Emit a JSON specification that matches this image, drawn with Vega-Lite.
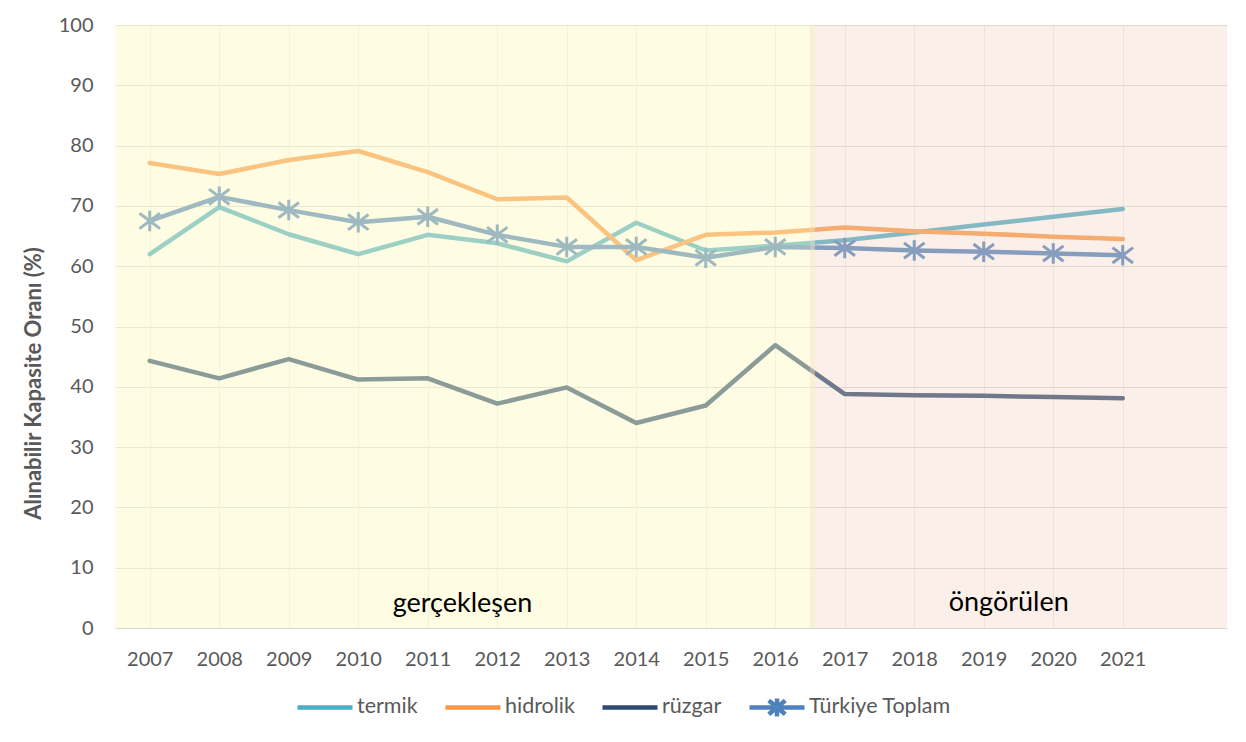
{
  "$schema": "https://vega.github.io/schema/vega-lite/v6.json",
  "width": 1112,
  "height": 603,
  "autosize": {"type": "none"},
  "padding": {"left": 115, "top": 25, "right": 19, "bottom": 114},
  "background": "white",
  "config": {
    "view": {"stroke": null},
    "font": "Lato",
    "axis": {"labelColor": "#595959", "labelFont": "Lato", "labelFontSize": 20, "domain": false, "ticks": false, "titleColor": "#595959"},
    "legend": {"labelColor": "#595959", "labelFontSize": 21.5, "labelFont": "Lato"}
  },
  "datasets": {
    "series": [
      {"year": 2007, "series": "termik", "value": 62.0},
      {"year": 2008, "series": "termik", "value": 69.8},
      {"year": 2009, "series": "termik", "value": 65.3},
      {"year": 2010, "series": "termik", "value": 62.0},
      {"year": 2011, "series": "termik", "value": 65.2},
      {"year": 2012, "series": "termik", "value": 63.8},
      {"year": 2013, "series": "termik", "value": 60.8},
      {"year": 2014, "series": "termik", "value": 67.2},
      {"year": 2015, "series": "termik", "value": 62.6},
      {"year": 2016, "series": "termik", "value": 63.4},
      {"year": 2017, "series": "termik", "value": 64.3},
      {"year": 2018, "series": "termik", "value": 65.6},
      {"year": 2019, "series": "termik", "value": 66.9},
      {"year": 2020, "series": "termik", "value": 68.2},
      {"year": 2021, "series": "termik", "value": 69.5},
      {"year": 2007, "series": "hidrolik", "value": 77.1},
      {"year": 2008, "series": "hidrolik", "value": 75.3},
      {"year": 2009, "series": "hidrolik", "value": 77.6},
      {"year": 2010, "series": "hidrolik", "value": 79.1},
      {"year": 2011, "series": "hidrolik", "value": 75.6},
      {"year": 2012, "series": "hidrolik", "value": 71.1},
      {"year": 2013, "series": "hidrolik", "value": 71.4},
      {"year": 2014, "series": "hidrolik", "value": 61.0},
      {"year": 2015, "series": "hidrolik", "value": 65.2},
      {"year": 2016, "series": "hidrolik", "value": 65.6},
      {"year": 2017, "series": "hidrolik", "value": 66.4},
      {"year": 2018, "series": "hidrolik", "value": 65.8},
      {"year": 2019, "series": "hidrolik", "value": 65.4},
      {"year": 2020, "series": "hidrolik", "value": 64.9},
      {"year": 2021, "series": "hidrolik", "value": 64.5},
      {"year": 2007, "series": "rüzgar", "value": 44.3},
      {"year": 2008, "series": "rüzgar", "value": 41.4},
      {"year": 2009, "series": "rüzgar", "value": 44.6},
      {"year": 2010, "series": "rüzgar", "value": 41.2},
      {"year": 2011, "series": "rüzgar", "value": 41.4},
      {"year": 2012, "series": "rüzgar", "value": 37.2},
      {"year": 2013, "series": "rüzgar", "value": 39.9},
      {"year": 2014, "series": "rüzgar", "value": 34.0},
      {"year": 2015, "series": "rüzgar", "value": 36.9},
      {"year": 2016, "series": "rüzgar", "value": 46.9},
      {"year": 2017, "series": "rüzgar", "value": 38.8},
      {"year": 2018, "series": "rüzgar", "value": 38.6},
      {"year": 2019, "series": "rüzgar", "value": 38.5},
      {"year": 2020, "series": "rüzgar", "value": 38.3},
      {"year": 2021, "series": "rüzgar", "value": 38.1},
      {"year": 2007, "series": "Türkiye Toplam", "value": 67.5},
      {"year": 2008, "series": "Türkiye Toplam", "value": 71.5},
      {"year": 2009, "series": "Türkiye Toplam", "value": 69.3},
      {"year": 2010, "series": "Türkiye Toplam", "value": 67.3},
      {"year": 2011, "series": "Türkiye Toplam", "value": 68.2},
      {"year": 2012, "series": "Türkiye Toplam", "value": 65.2},
      {"year": 2013, "series": "Türkiye Toplam", "value": 63.2},
      {"year": 2014, "series": "Türkiye Toplam", "value": 63.2},
      {"year": 2015, "series": "Türkiye Toplam", "value": 61.4},
      {"year": 2016, "series": "Türkiye Toplam", "value": 63.2},
      {"year": 2017, "series": "Türkiye Toplam", "value": 63.0},
      {"year": 2018, "series": "Türkiye Toplam", "value": 62.6},
      {"year": 2019, "series": "Türkiye Toplam", "value": 62.4},
      {"year": 2020, "series": "Türkiye Toplam", "value": 62.1},
      {"year": 2021, "series": "Türkiye Toplam", "value": 61.8}
    ]
  },
  "layer": [
    {
      "data": {"name": "series"},
      "mark": {"type": "line", "strokeWidth": 4.5, "strokeCap": "round", "strokeJoin": "round"},
      "encoding": {
        "x": {
          "field": "year", "type": "quantitative",
          "scale": {"domain": [2006.5, 2022.5], "nice": false, "zero": false},
          "axis": {"values": [2007, 2008, 2009, 2010, 2011, 2012, 2013, 2014, 2015, 2016, 2017, 2018, 2019, 2020, 2021], "format": "d", "title": null, "grid": true, "gridColor": "#ececec", "labelPadding": 21, "labelFlush": false}
        },
        "y": {
          "field": "value", "type": "quantitative",
          "scale": {"domain": [0, 100], "nice": false},
          "axis": {"values": [0, 10, 20, 30, 40, 50, 60, 70, 80, 90, 100], "title": "Alınabilir Kapasite Oranı (%)", "titleFontSize": 22, "titleFontWeight": "bold", "titleFont": "Lato", "titlePadding": 13, "titleY": 358, "gridColor": "#d9d9d9", "labelPadding": 22}
        },
        "color": {
          "field": "series", "type": "nominal",
          "scale": {"domain": ["termik", "hidrolik", "rüzgar", "Türkiye Toplam"], "range": ["#4bacc6", "#f79646", "#2c4a72", "#4f81bd"]},
          "legend": {"title": null, "orient": "none", "direction": "horizontal", "legendX": 180, "legendY": 652, "symbolSize": 3025, "symbolStrokeWidth": 4.5, "labelOffset": 2, "columnPadding": 18}
        },
        "shape": {
          "field": "series", "type": "nominal",
          "scale": {"domain": ["termik", "hidrolik", "rüzgar", "Türkiye Toplam"], "range": ["M-1,0L1,0M-1,-0.33L-1,-0.33M-1,0.33L-1,0.33", "M-1,0L1,0M-1,-0.33L-1,-0.33M-1,0.33L-1,0.33", "M-1,0L1,0M-1,-0.33L-1,-0.33M-1,0.33L-1,0.33", "M-1,0L1,0M-0.3,-0.25L0.3,0.25M-0.3,0.25L0.3,-0.25M0,-0.33L0,0.33"]},
          "legend": {"title": null, "orient": "none", "direction": "horizontal", "legendX": 180, "legendY": 652, "symbolSize": 3025, "symbolStrokeWidth": 4.5, "labelOffset": 2, "columnPadding": 18}
        }
      }
    },
    {
      "data": {"name": "series"},
      "transform": [{"filter": "datum.series === 'Türkiye Toplam'"}],
      "mark": {"type": "point", "filled": false, "strokeWidth": 3, "size": 420, "opacity": 1, "shape": "M-1,-0.75L1,0.75M-1,0.75L1,-0.75M0,-1L0,1"},
      "encoding": {
        "x": {"field": "year", "type": "quantitative"},
        "y": {"field": "value", "type": "quantitative"},
        "color": {"field": "series", "type": "nominal"}
      }
    },
    {
      "data": {"values": [{"start": 2006.5, "end": 2016.57}]},
      "mark": {"type": "rect", "fill": "#fcfac4", "opacity": 0.46},
      "encoding": {
        "x": {"field": "start", "type": "quantitative"},
        "x2": {"field": "end"},
        "y": {"datum": 0, "type": "quantitative"},
        "y2": {"datum": 100}
      }
    },
    {
      "data": {"values": [{"start": 2016.5, "end": 2022.5}]},
      "mark": {"type": "rect", "fill": "#f2d4be", "opacity": 0.34},
      "encoding": {
        "x": {"field": "start", "type": "quantitative"},
        "x2": {"field": "end"},
        "y": {"datum": 0, "type": "quantitative"},
        "y2": {"datum": 100}
      }
    },
    {
      "data": {"values": [{"year": 2011.5, "value": 3.9, "label": "gerçekleşen"}]},
      "mark": {"type": "text", "font": "Lato", "fontSize": 27, "color": "#000000", "baseline": "middle", "align": "center"},
      "encoding": {
        "x": {"field": "year", "type": "quantitative"},
        "y": {"field": "value", "type": "quantitative"},
        "text": {"field": "label"}
      }
    },
    {
      "data": {"values": [{"year": 2019.36, "value": 4.2, "label": "öngörülen"}]},
      "mark": {"type": "text", "font": "Lato", "fontSize": 27, "color": "#000000", "baseline": "middle", "align": "center"},
      "encoding": {
        "x": {"field": "year", "type": "quantitative"},
        "y": {"field": "value", "type": "quantitative"},
        "text": {"field": "label"}
      }
    }
  ]
}
